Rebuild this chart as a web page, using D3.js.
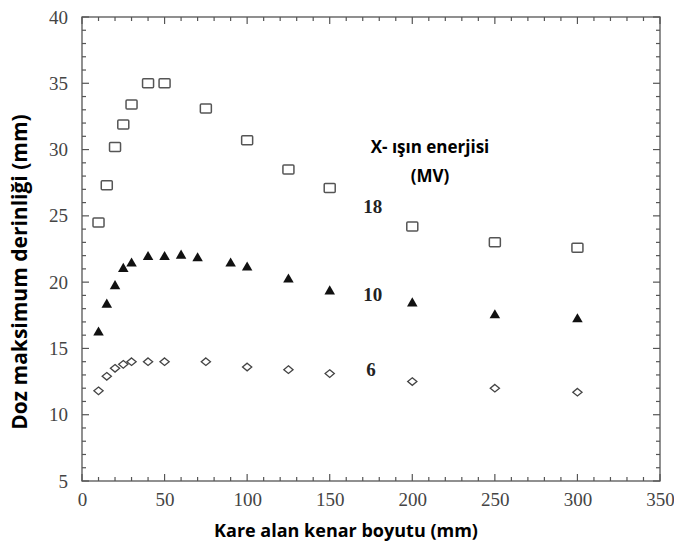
<!DOCTYPE html>
<html>
<head>
<meta charset="utf-8">
<script src="https://cdn.jsdelivr.net/npm/d3@7"></script>
<style>
body { margin: 0; background: #fff; }
</style>
</head>
<body>
<script>
var width = 674,
	height = 549,
	plotLeft = 82,
	plotRight = 660,
	plotTop = 17,
	plotBottom = 481;

// data
var sizes18 = [10, 15, 20, 25, 30, 40, 50, 75, 100, 125, 150, 200, 250, 300];
var depth18 = [24.5, 27.3, 30.2, 31.9, 33.4, 35.0, 35.0, 33.1, 30.7, 28.5, 27.1, 24.2, 23.0, 22.6];
var sizes10 = [10, 15, 20, 25, 30, 40, 50, 60, 70, 90, 100, 125, 150, 200, 250, 300];
var depth10 = [16.2, 18.3, 19.7, 21.0, 21.4, 21.9, 21.9, 22.0, 21.8, 21.4, 21.1, 20.2, 19.3, 18.4, 17.5, 17.2];
var sizes6 = [10, 15, 20, 25, 30, 40, 50, 75, 100, 125, 150, 200, 250, 300];
var depth6 = [11.8, 12.9, 13.5, 13.8, 14.0, 14.0, 14.0, 14.0, 13.6, 13.4, 13.1, 12.5, 12.0, 11.7];
var xTicks = [0, 50, 100, 150, 200, 250, 300, 350];
var yTicks = [5, 10, 15, 20, 25, 30, 35, 40];
var energies = ["18", "10", "6"];

var svg = d3.select("body")
	.append("svg")
	.attr("width", width)
	.attr("height", height);

var x = d3.scaleLinear().domain([0, 350]).range([plotLeft, plotRight]);
var y = d3.scaleLinear().domain([5, 40]).range([plotBottom, plotTop]);

var frameColor = "#555";
var tickFont = "'Liberation Serif', 'DejaVu Serif', serif";
var titleFont = "'Open Sans', Lato, sans-serif";

var minorX = d3.range(0, 351, 10),
	minorY = d3.range(5, 40.01, 1);

// frame with inward ticks on all four sides
var frame = svg.append("g");
frame.append("rect")
	.attr("x", plotLeft).attr("y", plotTop)
	.attr("width", plotRight - plotLeft).attr("height", plotBottom - plotTop)
	.attr("fill", "none")
	.attr("stroke", frameColor)
	.attr("stroke-width", 1.3);

minorX.forEach(function(v) {
	var len = v % 50 === 0 ? 7 : 4;
	frame.append("line")
		.attr("x1", x(v)).attr("x2", x(v))
		.attr("y1", plotBottom).attr("y2", plotBottom - len)
		.attr("stroke", frameColor).attr("stroke-width", 1.2);
	frame.append("line")
		.attr("x1", x(v)).attr("x2", x(v))
		.attr("y1", plotTop).attr("y2", plotTop + len)
		.attr("stroke", frameColor).attr("stroke-width", 1.2);
});
minorY.forEach(function(v) {
	var len = v % 5 === 0 ? 7 : 4;
	frame.append("line")
		.attr("x1", plotLeft).attr("x2", plotLeft + len)
		.attr("y1", y(v)).attr("y2", y(v))
		.attr("stroke", frameColor).attr("stroke-width", 1.2);
	frame.append("line")
		.attr("x1", plotRight).attr("x2", plotRight - len)
		.attr("y1", y(v)).attr("y2", y(v))
		.attr("stroke", frameColor).attr("stroke-width", 1.2);
});

// tick labels
svg.append("g")
	.attr("transform", "translate(0," + (plotBottom + 7) + ")")
	.call(d3.axisBottom(x).tickValues(xTicks).tickSize(0).tickPadding(5))
	.call(function(g) {
		g.select(".domain").remove();
		g.selectAll("text")
			.attr("font-family", tickFont)
			.attr("font-size", 19)
			.attr("fill", "#444");
	});

svg.append("g")
	.attr("transform", "translate(" + (plotLeft - 14) + ",0)")
	.call(d3.axisLeft(y).tickValues(yTicks).tickSize(0).tickPadding(0))
	.call(function(g) {
		g.select(".domain").remove();
		g.selectAll("text")
			.attr("font-family", tickFont)
			.attr("font-size", 19)
			.attr("fill", "#444");
	});

// axis titles
svg.append("text")
	.attr("x", 346)
	.attr("y", 537)
	.attr("text-anchor", "middle")
	.attr("font-family", titleFont)
	.attr("font-weight", "bold")
	.attr("font-size", 18)
	.text("Kare alan kenar boyutu (mm)");

svg.append("text")
	.attr("transform", "translate(27," + 272 + ") rotate(-90)")
	.attr("text-anchor", "middle")
	.attr("font-family", titleFont)
	.attr("font-weight", "bold")
	.attr("font-size", 21)
	.text("Doz maksimum derinliği (mm)");

// 18 MV: open squares
svg.append("g").selectAll("rect")
	.data(d3.zip(sizes18, depth18))
	.join("rect")
	.attr("x", function(d) { return x(d[0]) - 5.5; })
	.attr("y", function(d) { return y(d[1]) - 4.5; })
	.attr("width", 11)
	.attr("height", 9)
	.attr("rx", 1)
	.attr("fill", "none")
	.attr("stroke", "#555")
	.attr("stroke-width", 1.5);

// 10 MV: filled triangles
svg.append("g").selectAll("path")
	.data(d3.zip(sizes10, depth10))
	.join("path")
	.attr("d", d3.symbol().type(d3.symbolTriangle).size(48))
	.attr("transform", function(d) { return "translate(" + x(d[0]) + "," + y(d[1]) + ")"; })
	.attr("fill", "#111");

// 6 MV: open diamonds
svg.append("g").selectAll("path")
	.data(d3.zip(sizes6, depth6))
	.join("path")
	.attr("d", "M0,-3.8L4.6,0L0,3.8L-4.6,0Z")
	.attr("transform", function(d) { return "translate(" + x(d[0]) + "," + y(d[1]) + ")"; })
	.attr("fill", "none")
	.attr("stroke", "#444")
	.attr("stroke-width", 1.3);

// energy labels
var labelPos = [[176, 25.2], [176, 18.6], [175, 12.9]];
svg.append("g").selectAll("text")
	.data(energies)
	.join("text")
	.attr("x", function(d, i) { return x(labelPos[i][0]); })
	.attr("y", function(d, i) { return y(labelPos[i][1]); })
	.attr("text-anchor", "middle")
	.attr("font-family", tickFont)
	.attr("font-weight", "bold")
	.attr("font-size", 19)
	.attr("fill", "#222")
	.text(function(d) { return d; });

svg.append("text")
	.attr("x", 430)
	.attr("y", 153)
	.attr("text-anchor", "middle")
	.attr("font-family", titleFont)
	.attr("font-weight", "bold")
	.attr("font-size", 17)
	.text("X- ışın enerjisi");
svg.append("text")
	.attr("x", 430)
	.attr("y", 182)
	.attr("text-anchor", "middle")
	.attr("font-family", titleFont)
	.attr("font-weight", "bold")
	.attr("font-size", 17)
	.text("(MV)");
</script>
</body>
</html>
